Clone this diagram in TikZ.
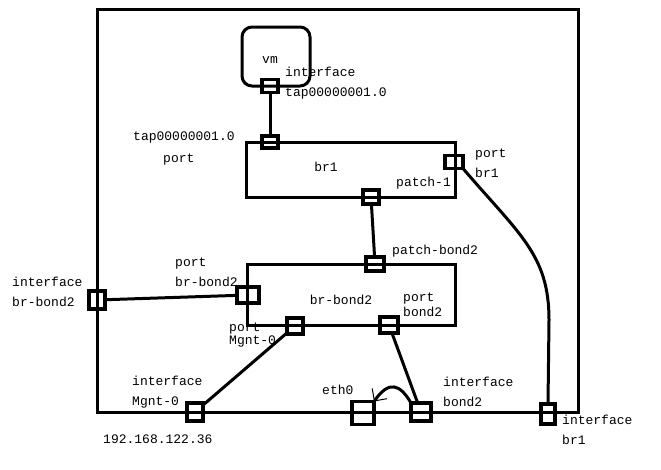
\documentclass[tikz,border=0pt]{standalone}
\usepackage{fontspec}
\setmainfont{Liberation Mono}
\usepackage{tikz}
\usetikzlibrary{arrows.meta,shapes,calc,positioning}
\tikzstyle{edge}  =[line width=3pt]
\tikzstyle{port}  =[rectangle, draw, line width=3.2pt,
                    inner sep=0pt, outer sep=0pt]
\tikzstyle{bridge}=[rectangle, draw, line width=3pt,
                    inner sep=0pt, outer sep=0pt]
\tikzstyle{txt}   =[inner sep=0pt, anchor=west, align=left,
                    font=\fontsize{13}{20}\selectfont]

\begin{document}
\begin{tikzpicture}[x=1pt,y=-1pt]
    \useasboundingbox (0,0) rectangle (661,469);

    % host, vm and bridges
    \draw (337.5,210.5) node (host) [bridge, minimum width=481, minimum height=403] {};
    \draw (276,56.5) node (vm) [bridge, rounded corners=10pt, minimum width=68, minimum height=59] {};
    \draw (350.5,169.5) node (br1) [bridge, minimum width=209, minimum height=55] {};
    \draw (351,294.5) node (brbond) [bridge, minimum width=208, minimum height=61] {};

    % ports and interfaces
    \draw (270,86) node (vmtap) [port, minimum width=16, minimum height=13] {};
    \draw (270,142) node (brtap) [port, minimum width=16, minimum height=12] {};
    \draw (454,162) node (pbr1) [port, minimum width=18, minimum height=13] {};
    \draw (371,197) node (patch1) [port, minimum width=16, minimum height=14] {};
    \draw (375,264) node (patchb2) [port, minimum width=18, minimum height=14] {};
    \draw (248,295) node (pbrb2) [port, minimum width=22, minimum height=16] {};
    \draw (295,326) node (pmgnt) [port, minimum width=16, minimum height=16] {};
    \draw (389,325) node (pbond2) [port, minimum width=18, minimum height=16] {};
    \draw (97,300) node (ibrb2) [port, minimum width=16, minimum height=18] {};
    \draw (195,412) node (imgnt) [port, minimum width=16, minimum height=18] {};
    \draw (363,413) node (eth0) [port, minimum width=22, minimum height=23] {};
    \draw (421,412) node (ibond2) [port, minimum width=20, minimum height=18] {};
    \draw (548,414) node (ibr1) [port, minimum width=14, minimum height=20] {};

    % texts
    \draw (270,60) node (tvm) [txt, anchor=center] {vm};
    \draw (326,167) node (tbr1) [txt, anchor=center] {br1};
    \draw (341,300) node (tbrbond) [txt, anchor=center] {br-bond2};
    \draw (285,83) node (lvmtap) [txt] {interface\\tap00000001.0};
    \draw (133,137) node (lbrtap) [txt] {tap00000001.0};
    \draw (163,160) node (lbrtapb) [txt] {port};
    \draw (475,163) node (lpbr1) [txt] {port\\br1};
    \draw (396,183) node (lpatch1) [txt] {patch-1};
    \draw (392,251) node (lpatchb2) [txt] {patch-bond2};
    \draw (175,272) node (lpbrb2) [txt] {port\\br-bond2};
    \draw (229,335) node (lpmgnt) [txt, font=\fontsize{13}{11}\selectfont] {port\\Mgnt-0};
    \draw (403,305) node (lpbond2) [txt, font=\fontsize{13}{15}\selectfont] {port\\bond2};
    \draw (12,292) node (librb2) [txt] {interface\\br-bond2};
    \draw (132,392) node (limgnt) [txt] {interface\\Mgnt-0};
    \draw (103,439) node (lip) [txt] {192.168.122.36};
    \draw (322,390) node (leth0) [txt] {eth0};
    \draw (443,392) node (libond2) [txt] {interface\\bond2};
    \draw (562,430) node (libr1) [txt] {interface\\br1};

    % links
    \foreach \i/\j in {vmtap/brtap,patch1/patchb2,ibrb2/pbrb2,pmgnt/imgnt,pbond2/ibond2}
        \draw [edge] (\i) to (\j);
    \draw [edge] (pbr1.south east) .. controls (520,235) and (549,255) .. (549,320) -- (ibr1.north);
    \draw [edge, -{Straight Barb[line width=1pt, length=9pt, width=18pt]}]
        (ibond2.north west) .. controls (400,384) and (389,380) .. (eth0.north east);

\end{tikzpicture}
\end{document}
